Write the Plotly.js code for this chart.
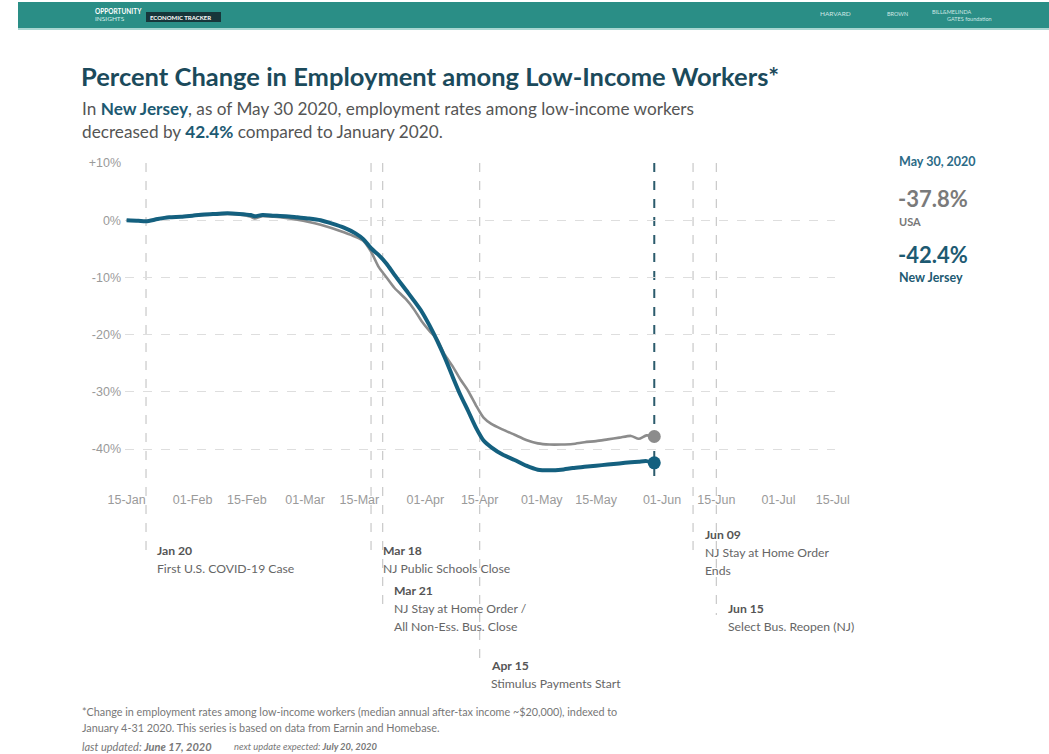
<!DOCTYPE html>
<html>
<head>
<meta charset="utf-8">
<script src="https://cdn.plot.ly/plotly-3.0.1.min.js"></script>
<style>html,body{margin:0;padding:0;background:#fff;}#chart{width:1049px;height:754px;}</style>
</head>
<body>
<div id="chart"></div>
<script>
// ---- data ----
const dates = ['2020-01-15','2020-01-18','2020-01-20','2020-01-23','2020-01-26','2020-01-29','2020-02-01','2020-02-04','2020-02-07','2020-02-10','2020-02-13','2020-02-16','2020-02-17','2020-02-19','2020-02-22','2020-02-25','2020-02-28','2020-03-02','2020-03-05','2020-03-08','2020-03-11','2020-03-14','2020-03-16','2020-03-18','2020-03-20','2020-03-22','2020-03-24','2020-03-27','2020-03-29','2020-03-31','2020-04-02','2020-04-04','2020-04-06','2020-04-08','2020-04-10','2020-04-12','2020-04-14','2020-04-16','2020-04-18','2020-04-21','2020-04-24','2020-04-27','2020-04-30','2020-05-03','2020-05-06','2020-05-09','2020-05-12','2020-05-15','2020-05-18','2020-05-21','2020-05-24','2020-05-26','2020-05-28','2020-05-30'];
const njValues = [0.0,-0.1,-0.2,0.2,0.5,0.6,0.8,1.0,1.1,1.2,1.1,0.9,0.7,0.9,0.8,0.7,0.5,0.3,0.0,-0.6,-1.3,-2.3,-3.3,-4.9,-6.1,-7.6,-9.5,-12.2,-14.0,-15.9,-18.3,-21.0,-24.0,-27.3,-30.5,-33.3,-36.2,-38.5,-39.7,-41.0,-41.9,-42.9,-43.6,-43.7,-43.6,-43.3,-43.1,-42.9,-42.7,-42.5,-42.3,-42.2,-42.1,-42.4];
const usaValues = [0.0,-0.1,-0.2,0.2,0.5,0.6,0.8,0.9,1.0,1.1,1.0,0.6,0.3,0.7,0.6,0.4,0.1,-0.3,-0.8,-1.4,-2.1,-2.9,-3.6,-5.5,-8.2,-10.0,-11.8,-13.8,-15.5,-17.6,-19.3,-20.8,-23.5,-25.5,-27.8,-29.8,-32.3,-34.5,-35.6,-36.6,-37.5,-38.4,-39.0,-39.2,-39.2,-39.1,-38.8,-38.6,-38.3,-38.0,-37.7,-38.2,-37.6,-37.8];
const lastDate = '2020-05-30';
const lastNJ = -42.4;
const lastUSA = -37.8;

const xTickVals = ['2020-01-15','2020-02-01','2020-02-15','2020-03-01','2020-03-15','2020-04-01','2020-04-15','2020-05-01','2020-05-15','2020-06-01','2020-06-15','2020-07-01','2020-07-15'];
const xTickText = ['15-Jan','01-Feb','15-Feb','01-Mar','15-Mar','01-Apr','15-Apr','01-May','15-May','01-Jun','15-Jun','01-Jul','15-Jul'];
const yTickVals = [10,0,-10,-20,-30,-40];
const yTickText = ['+10%','0%','-10%','-20%','-30%','-40%'];

const eventDates = ['2020-01-20','2020-03-18','2020-03-21','2020-04-15','2020-06-09','2020-06-15'];
const eventTitles = ['Jan 20','Mar 18','Mar 21','Apr 15','Jun 09','Jun 15'];
const eventTexts = [['First U.S. COVID-19 Case'],['NJ Public Schools Close'],['NJ Stay at Home Order /','All Non-Ess. Bus. Close'],['Stimulus Payments Start'],['NJ Stay at Home Order','Ends'],['Select Bus. Reopen (NJ)']];

// ---- layout helpers (pixel -> paper) ----
const L = 125, R = 835, T = 163, B = 480;
const px = X => (X - L) / (R - L);
const py = Y => (B - Y) / (B - T);

const NJ_COLOR = '#14607f';
const US_COLOR = '#8c8c8c';
const TEAL = '#1d5a72';
const FONT = 'Lato, "Source Sans Pro", "Noto Sans", sans-serif';

const traces = [
  {x: dates, y: usaValues, type: 'scatter', mode: 'lines', line: {color: US_COLOR, width: 2.6, shape: 'spline', smoothing: 0.7}, hoverinfo: 'skip'},
  {x: dates, y: njValues, type: 'scatter', mode: 'lines', line: {color: NJ_COLOR, width: 4, shape: 'spline', smoothing: 0.7}, hoverinfo: 'skip'},
  {x: [lastDate], y: [lastUSA], type: 'scatter', mode: 'markers', marker: {color: US_COLOR, size: 13}, hoverinfo: 'skip'},
  {x: [lastDate], y: [lastNJ], type: 'scatter', mode: 'markers', marker: {color: NJ_COLOR, size: 13}, hoverinfo: 'skip'}
];

// event line lower ends (pixels)
const eventBottoms = [557, 557, 613, 660, 555, 615];
const eventTitleY = [550, 550, 590, 665, 534, 608];
const eventTextX = [155, 381, 392, 489, 703, 726];

const shapes = [];
// header band
shapes.push({type: 'rect', xref: 'paper', yref: 'paper', x0: px(18), x1: px(1049), y0: py(28), y1: py(2), fillcolor: '#2a8e86', line: {width: 0}, layer: 'below'});
shapes.push({type: 'line', xref: 'paper', yref: 'paper', x0: px(18), x1: px(1049), y0: py(29), y1: py(29), line: {color: '#8cc9c2', width: 1.5}});
// economic tracker badge
shapes.push({type: 'rect', xref: 'paper', yref: 'paper', x0: px(146), x1: px(221), y0: py(22), y1: py(12), fillcolor: '#17363a', line: {width: 0}});

eventDates.forEach((d, i) => {
  shapes.push({type: 'line', xref: 'x', yref: 'paper', x0: d, x1: d, y0: 1, y1: py(eventBottoms[i]), line: {color: '#c8c8c8', width: 1.2, dash: 'dash'}, layer: 'below'});
});
// last data line
shapes.push({type: 'line', xref: 'x', yref: 'paper', x0: lastDate, x1: lastDate, y0: 1, y1: py(476), line: {color: '#2b5b6c', width: 2, dash: 'dash'}, layer: 'below'});

const ann = [];
function addText(text, X, Y, size, color, opts) {
  ann.push(Object.assign({xref: 'paper', yref: 'paper', x: px(X), y: py(Y), xanchor: 'left', yanchor: 'middle', text: text, showarrow: false, font: {family: FONT, size: size, color: color}, align: 'left'}, opts || {}));
}
// header logos
addText('<b>OPPORTUNITY</b>', 93, 11, 6.5, '#ffffff');
addText('INSIGHTS', 93, 18, 6.5, '#d8eeeb');
addText('<b>ECONOMIC TRACKER</b>', 148, 17, 6, '#ffffff');
addText('HARVARD', 818, 13, 6.5, '#cfe8e5');
addText('BROWN', 885, 14, 5.5, '#cfe8e5');
addText('BILL&MELINDA', 930, 12, 5.5, '#cfe8e5');
addText('GATES foundation', 945, 19, 5.5, '#cfe8e5');

// title + subtitle
addText('<b>Percent Change in Employment among Low-Income Workers*</b>', 79, 76, 25.5, '#1b4a5b');
addText('In <b><span style="color:' + TEAL + '">New Jersey</span></b>, as of May 30 2020, employment rates among low-income workers', 80, 108, 17.2, '#555555');
addText('decreased by <b><span style="color:' + TEAL + '">42.4%</span></b> compared to January 2020.', 80, 131, 17.2, '#555555');

// right panel
addText('<b>May 30, 2020</b>', 897, 161, 12.5, '#2b6a86');
addText('<b>' + lastUSA.toFixed(1) + '%</b>', 896, 198, 22, '#7a7a7a');
addText('<b>USA</b>', 897, 221, 11, '#777777');
addText('<b>' + lastNJ.toFixed(1) + '%</b>', 896, 254, 22, TEAL);
addText('<b>New Jersey</b>', 897, 277, 12.5, TEAL);

// event annotations
eventTitles.forEach((t, i) => {
  addText('<b>' + t + '</b>', eventTextX[i], eventTitleY[i], 12.2, '#555555');
  eventTexts[i].forEach((line, j) => {
    addText(line, eventTextX[i], eventTitleY[i] + 18 * (j + 1), 12.2, '#666666');
  });
});

// footnotes
addText('*Change in employment rates among low-income workers (median annual after-tax income ~$20,000), indexed to', 80, 711, 10.8, '#777777');
addText('January 4-31 2020. This series is based on data from Earnin and Homebase.', 80, 727, 10.8, '#777777');
addText('<i>last updated: <b>June 17, 2020</b></i>', 80, 746, 11, '#777777');
addText('<i>next update expected: <b>July 20, 2020</b></i>', 232, 746, 9.4, '#777777');

const layout = {
  width: 1049, height: 754,
  margin: {l: L, r: 1049 - R, t: T, b: 754 - B},
  paper_bgcolor: '#ffffff', plot_bgcolor: '#ffffff',
  showlegend: false,
  xaxis: {
    type: 'date', range: ['2020-01-14 14:00', '2020-07-15 14:00'],
    showgrid: false, zeroline: false, showline: false, ticks: '',
    tickvals: xTickVals, ticktext: xTickText,
    tickfont: {family: '"Liberation Sans", Arial, sans-serif', size: 12.5, color: '#9a9a9a'},
    ticklabelstandoff: 10
  },
  yaxis: {
    range: [-45.4, 10], zeroline: false, showline: false, ticks: '',
    tickvals: yTickVals, ticktext: yTickText,
    gridcolor: '#dedede', griddash: 'dash', gridwidth: 1,
    tickfont: {family: '"Liberation Sans", Arial, sans-serif', size: 12.5, color: '#9a9a9a'},
    ticklabelstandoff: 3
  },
  shapes: shapes,
  annotations: ann
};

Plotly.newPlot('chart', traces, layout, {displayModeBar: false, staticPlot: true});
</script>
</body>
</html>
